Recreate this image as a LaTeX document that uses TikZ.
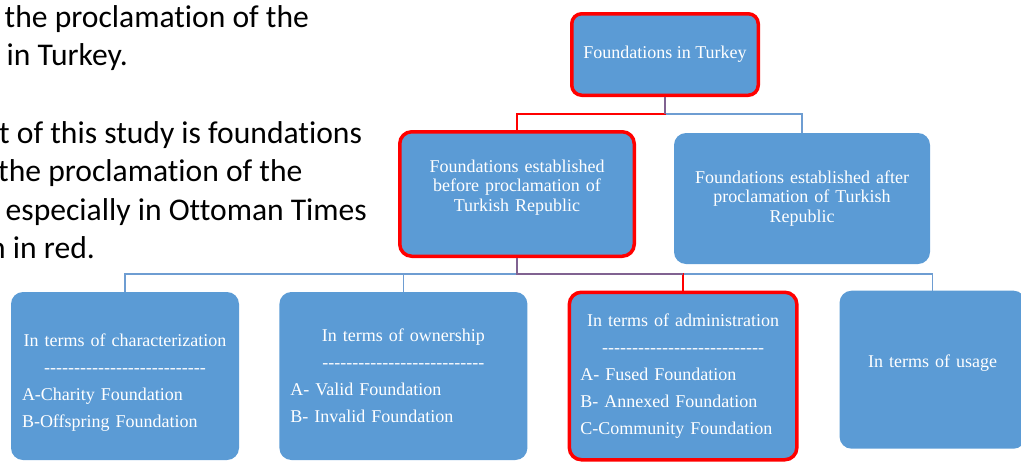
\documentclass[tikz,border=0pt]{standalone}
\usepackage{fontspec}
\setmainfont{Liberation Serif}[Ligatures={TeX,NoCommon}]
\newfontfamily\introfont{Carlito}[Ligatures=NoCommon]
\usetikzlibrary{positioning}

\definecolor{boxblue}{RGB}{91,155,213}
\definecolor{linkblue}{RGB}{110,157,210}
\definecolor{linkmix}{RGB}{128,98,145}

\newcommand{\dashrow}{\foreach \n in {1,...,27}{-}}

\begin{document}
\begin{tikzpicture}[
  x=1pt, y=-1pt,
  box/.style={fill=boxblue, text=white, rounded corners=12pt, align=center, inner sep=0pt, font=\fontsize{18}{19.5}\selectfont},
  hot/.style={draw=red, line width=3.5pt},
  term/.style={box, align=left, inner xsep=11pt, font=\fontsize{18}{27}\selectfont},
  intro/.style={anchor=base west, inner sep=0pt, font=\introfont\fontsize{31.6}{38}\selectfont},
  link/.style={draw=linkblue, line width=1.3pt},
  hotlink/.style={draw=red, line width=1.3pt},
  mixlink/.style={draw=linkmix, line width=1.3pt}
]
\useasboundingbox (0,0) rectangle (1021,461);

% slide text, cut at the left edge
\node[intro] (intro1) at (4.5,27) {the proclamation of the};
\node[intro] (intro2) at (6.5,65) {in Turkey.};
\node[intro] (intro3) at (-1,143) {t of this study is foundations};
\node[intro] (intro4) at (-2,181) {the proclamation of the};
\node[intro] (intro5) at (5.5,220) {especially in Ottoman Times};
\node[intro] (intro6) at (-11,258) {n in red.};

% tree
\node[box, hot, rounded corners=10pt, minimum width=186.5pt, minimum height=81.5pt] (turkey) at (665,54.5) {Foundations in Turkey};
\node[box, hot, text width=212pt, minimum width=234.5pt, minimum height=124.5pt, text depth=56pt] (before) at (517,194)
  {Foundations established\\before proclamation of\\Turkish Republic};
\node[box, text width=236pt, minimum width=256pt, minimum height=131pt] (after) at (802,198.5)
  {Foundations established after\\proclamation of Turkish\\Republic};

\node[term, text width=206pt, minimum width=228pt, minimum height=168pt, text depth=72pt] (char) at (125,376)
  {{\centering In terms of characterization\\\dashrow\par}A-Charity Foundation\\B-Offspring Foundation};
\node[term, right=40pt of char, text width=226pt, minimum width=248pt, minimum height=168pt] (own)
  {{\centering In terms of ownership\\\dashrow\par}A- Valid Foundation\\B- Invalid Foundation};
\node[term, hot, right=40pt of own, text width=205.5pt, minimum width=227.5pt, minimum height=167.5pt] (admin)
  {{\centering In terms of administration\\\dashrow\par}A- Fused Foundation\\B- Annexed Foundation\\C-Community Foundation};
\node[box, right=40.75pt of admin.north east, anchor=north west, text width=166pt, minimum width=186pt, minimum height=158pt, text depth=18pt] (usage)
  {In terms of usage};

% connectors
\coordinate (bus1) at (0,114);
\coordinate (bus2) at (0,274);

\draw[link] (turkey.south) |- (bus1 -| after.north) -- (after.north);
\draw[hotlink] (turkey.south) |- (bus1 -| before.north) -- (before.north);
\draw[mixlink] (turkey.south) -- (turkey.south |- bus1);

\foreach \k in {char,own,usage}
  \draw[link] (before.south) |- (bus2 -| \k.north) -- (\k.north);
\draw[hotlink] (before.south) |- (bus2 -| admin.north) -- (admin.north);
\draw[mixlink] (before.south) |- (bus2 -| admin.north);

\end{tikzpicture}
\end{document}
